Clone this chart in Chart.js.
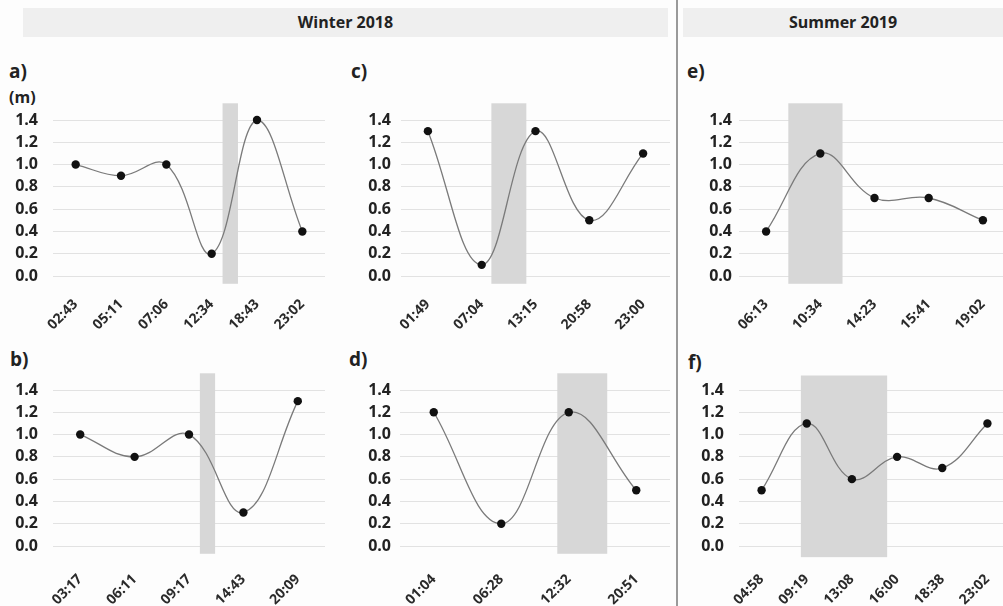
<!DOCTYPE html>
<html>
<head>
<meta charset="utf-8">
<script src="https://cdn.jsdelivr.net/npm/chart.js@4"></script>
<style>
  body { margin: 0; background: #fdfdfd; font-family: "Open Sans", Lato, sans-serif; }
  #page { position: relative; width: 1003px; height: 606px; overflow: hidden; }
  .head { position: absolute; top: 8px; height: 29px; background: #efefef; color: #222;
          font-weight: bold; font-size: 16px; line-height: 29px; text-align: center; }
  .divider { position: absolute; left: 676px; top: 0; width: 2px; height: 606px; background: #9a9a9a; }
  .tag { position: absolute; font-weight: bold; font-size: 19px; color: #222; }
  .unit { position: absolute; font-weight: bold; font-size: 16px; color: #222; }
  canvas { position: absolute; }
</style>
</head>
<body>
<div id="page">
  <div class="head" style="left:23px; width:645px;">Winter 2018</div>
  <div class="head" style="left:683px; width:320px;">Summer 2019</div>
  <div class="divider"></div>

  <div class="tag" style="left:9px; top:58px;">a)</div>
  <div class="unit" style="left:9px; top:86px;">(m)</div>
  <div class="tag" style="left:351px; top:58px;">c)</div>
  <div class="tag" style="left:687px; top:58px;">e)</div>
  <div class="tag" style="left:10px; top:346px;">b)</div>
  <div class="tag" style="left:349px; top:346px;">d)</div>
  <div class="tag" style="left:688px; top:349px;">f)</div>

  <canvas id="chartA"></canvas>
  <canvas id="chartC"></canvas>
  <canvas id="chartE"></canvas>
  <canvas id="chartB"></canvas>
  <canvas id="chartD"></canvas>
  <canvas id="chartF"></canvas>
</div>

<script>
// Water level (m) at each sampling time
const timesA = ['02:43', '05:11', '07:06', '12:34', '18:43', '23:02'];
const levelsA = [1.0, 0.9, 1.0, 0.2, 1.4, 0.4];
const bandA = [3.24, 3.58];

const timesB = ['03:17', '06:11', '09:17', '14:43', '20:09'];
const levelsB = [1.0, 0.8, 1.0, 0.3, 1.3];
const bandB = [2.2, 2.48];

const timesC = ['01:49', '07:04', '13:15', '20:58', '23:00'];
const levelsC = [1.3, 0.1, 1.3, 0.5, 1.1];
const bandC = [1.18, 1.83];

const timesD = ['01:04', '06:28', '12:32', '20:51'];
const levelsD = [1.2, 0.2, 1.2, 0.5];
const bandD = [1.83, 2.57];

const timesE = ['06:13', '10:34', '14:23', '15:41', '19:02'];
const levelsE = [0.4, 1.1, 0.7, 0.7, 0.5];
const bandE = [0.41, 1.41];

const timesF = ['04:58', '09:19', '13:08', '16:00', '18:38', '23:02'];
const levelsF = [0.5, 1.1, 0.6, 0.8, 0.7, 1.1];
const bandF = [0.87, 2.78];

// vertical reach of the shaded windows (m)
const bandLevels = [-0.07, 1.55];
const bandLevelsF = [-0.1, 1.53];

const yMin = 0.0;
const yMax = 1.4;
const yStep = 0.2;

const FONT = '"Open Sans", Lato, sans-serif';

// shaded window behind the curve, placed in category units
const bandPlugin = {
    id: 'band',
    beforeDatasetsDraw(chart, args, opts) {
        if (!opts.range) return;
        const { ctx, scales: { x, y } } = chart;
        const x0 = x.getPixelForValue(opts.range[0]);
        const x1 = x.getPixelForValue(opts.range[1]);
        const y0 = y.getPixelForValue(opts.levels[1]);
        const y1 = y.getPixelForValue(opts.levels[0]);
        ctx.save();
        ctx.fillStyle = '#d7d7d7';
        ctx.fillRect(x0, y0, x1 - x0, y1 - y0);
        ctx.restore();
    }
};

// keep label overhang from eating into the plot area
const noOverhang = (s) => {
    s.paddingLeft = 0;
    s.paddingRight = 0;
    s.paddingTop = 0;
    s.paddingBottom = 0;
};

const makePanel = (id, box, labels, values, band, levels) => {
    const canvas = document.getElementById(id);
    canvas.width = box.w;
    canvas.height = box.h;
    canvas.style.left = box.left + 'px';
    canvas.style.top = box.top + 'px';
    canvas.style.width = box.w + 'px';
    canvas.style.height = box.h + 'px';

    new Chart(canvas.getContext('2d'), {
        type: 'line',
        data: {
            labels: labels,
            datasets: [{
                data: values,
                borderColor: '#7a7a7a',
                borderWidth: 1.3,
                tension: 0.4,
                pointRadius: 4.2,
                pointBackgroundColor: '#111',
                pointBorderWidth: 0,
                clip: false
            }]
        },
        options: {
            responsive: false,
            animation: false,
            devicePixelRatio: 1,
            layout: { autoPadding: false, padding: { top: box.padTop, right: box.padRight, left: 0, bottom: 0 } },
            plugins: {
                legend: { display: false },
                tooltip: { enabled: false },
                band: { range: band, levels: levels }
            },
            scales: {
                x: {
                    offset: true,
                    grid: { display: false, drawTicks: false },
                    border: { display: false },
                    ticks: {
                        minRotation: 45, maxRotation: 45, padding: box.labelPad, autoSkip: false,
                        color: '#2a2a2a', font: { family: FONT, size: 14, weight: 'bold' }
                    },
                    afterFit: (s) => { s.height = box.xh; noOverhang(s); }
                },
                y: {
                    min: yMin, max: yMax,
                    grid: { color: '#e2e2e2', lineWidth: 1, drawTicks: false },
                    border: { display: false },
                    ticks: {
                        stepSize: yStep, padding: box.tickPad,
                        color: '#222', font: { family: FONT, size: 16, weight: 'bold' },
                        callback: (v) => Number(v).toFixed(1)
                    },
                    afterFit: (s) => { s.width = box.yw; noOverhang(s); }
                }
            }
        },
        plugins: [bandPlugin]
    });
};

// plot areas: top row 120..276, bottom row 390..546
makePanel('chartA', { left: 0, top: 95, w: 330, h: 241, padTop: 25, padRight: 5, yw: 53, xh: 60, tickPad: 15, labelPad: 20 },
    timesA, levelsA, bandA, bandLevels);
makePanel('chartC', { left: 336, top: 95, w: 336, h: 241, padTop: 25, padRight: 2, yw: 65, xh: 60, tickPad: 10, labelPad: 20 },
    timesC, levelsC, bandC, bandLevels);
makePanel('chartE', { left: 680, top: 95, w: 332, h: 241, padTop: 25, padRight: 2, yw: 59, xh: 60, tickPad: 7, labelPad: 20 },
    timesE, levelsE, bandE, bandLevels);

makePanel('chartB', { left: 0, top: 365, w: 330, h: 241, padTop: 25, padRight: 5, yw: 53, xh: 60, tickPad: 15, labelPad: 25 },
    timesB, levelsB, bandB, bandLevels);
makePanel('chartD', { left: 336, top: 365, w: 336, h: 241, padTop: 25, padRight: 2, yw: 64, xh: 60, tickPad: 9, labelPad: 25 },
    timesD, levelsD, bandD, bandLevels);
makePanel('chartF', { left: 680, top: 365, w: 332, h: 241, padTop: 25, padRight: 2, yw: 59, xh: 60, tickPad: 15, labelPad: 25 },
    timesF, levelsF, bandF, bandLevelsF);
</script>
</body>
</html>
